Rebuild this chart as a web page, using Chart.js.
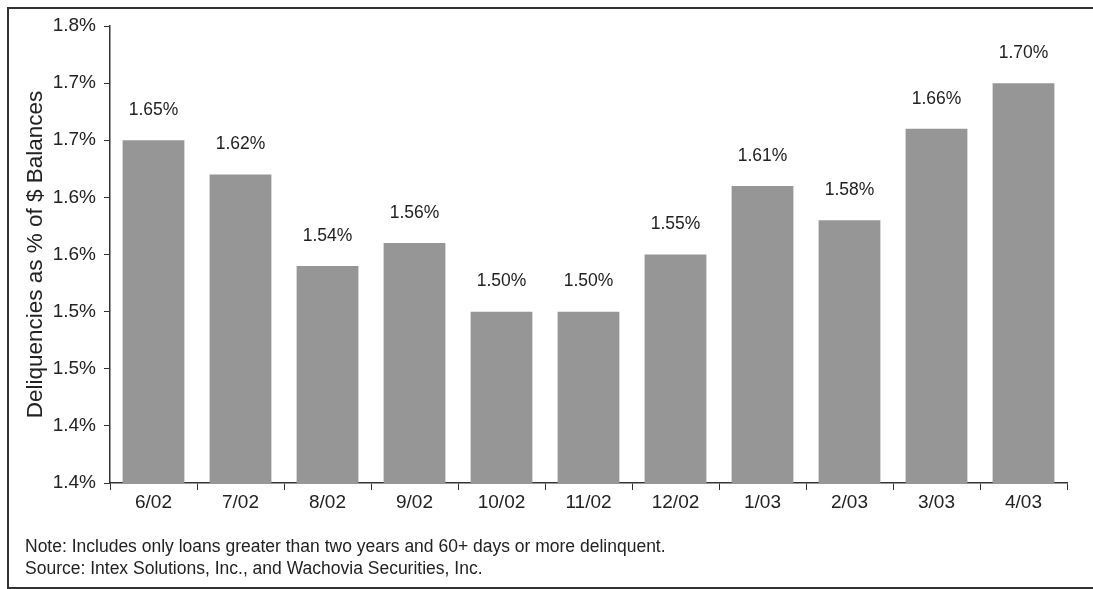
<!DOCTYPE html>
<html>
<head>
<meta charset="utf-8">
<script src="https://cdn.jsdelivr.net/npm/chart.js@4"></script>
<style>
    html, body { margin: 0; padding: 0; background: #fff; }
    #wrap { width: 1093px; height: 589px; position: relative; }
</style>
</head>
<body>
<div id="wrap"><canvas id="grafico"></canvas></div>
<script>
// dados
const meses = ['6/02', '7/02', '8/02', '9/02', '10/02', '11/02', '12/02', '1/03', '2/03', '3/03', '4/03'];
const valores = [1.65, 1.62, 1.54, 1.56, 1.50, 1.50, 1.55, 1.61, 1.58, 1.66, 1.70];
const rotulosY = ['1.4%', '1.4%', '1.5%', '1.5%', '1.6%', '1.6%', '1.7%', '1.7%', '1.8%'];
const notas = [
    'Note: Includes only loans greater than two years and 60+ days or more delinquent.',
    'Source: Intex Solutions, Inc., and Wachovia Securities, Inc.'
];

const fonte = "'Liberation Sans', Arial, sans-serif";

// moldura, rótulos das barras e notas de rodapé
const extras = {
    id: 'extras',
    afterDraw(chart) {
        const ctx = chart.ctx;
        ctx.save();
        ctx.strokeStyle = '#333';
        ctx.lineWidth = 2;
        ctx.strokeRect(8, 8, 1090, 580);

        ctx.fillStyle = '#222';
        ctx.font = '17.5px ' + fonte;
        ctx.textAlign = 'center';
        ctx.textBaseline = 'middle';
        const meta = chart.getDatasetMeta(0);
        meta.data.forEach((bar, i) => {
            ctx.fillText(valores[i].toFixed(2) + '%', bar.x, bar.y - 30);
        });

        ctx.font = '17.5px ' + fonte;
        ctx.textAlign = 'left';
        ctx.fillText(notas[0], 25, 547);
        ctx.fillText(notas[1], 25, 569);
        ctx.restore();
    }
};

const ctx = document.getElementById('grafico').getContext('2d');
new Chart(ctx, {
    type: 'bar',
    data: {
        labels: meses,
        datasets: [{
            data: valores,
            backgroundColor: '#969696',
            borderWidth: 0,
            categoryPercentage: 1,
            barPercentage: 0.71
        }]
    },
    options: {
        responsive: true,
        maintainAspectRatio: false,
        animation: false,
        layout: { padding: { top: 26, right: 26, left: 22, bottom: 0 } },
        plugins: { legend: { display: false }, tooltip: { enabled: false } },
        scales: {
            x: {
                grid: { drawOnChartArea: false, drawTicks: true, tickLength: 7, color: '#333', offset: true },
                border: { display: true, color: '#333', width: 1.5 },
                ticks: { color: '#222', font: { family: fonte, size: 19 }, padding: 1, maxRotation: 0 },
                afterFit(scale) { scale.height = 106; }
            },
            y: {
                min: 1.35,
                max: 1.75,
                grid: { drawOnChartArea: false, drawTicks: true, tickLength: 6, color: '#333' },
                border: { display: true, color: '#333', width: 1.5 },
                ticks: {
                    stepSize: 0.05,
                    color: '#222',
                    font: { family: fonte, size: 19 },
                    padding: 8,
                    callback: (v, i) => rotulosY[i]
                },
                title: {
                    display: true,
                    text: 'Deliquencies as % of $ Balances',
                    color: '#222',
                    font: { family: fonte, size: 22.5 },
                    padding: { top: 0, bottom: 4 }
                },
                afterFit(scale) { scale.width = 88; }
            }
        }
    },
    plugins: [extras]
});
</script>
</body>
</html>
